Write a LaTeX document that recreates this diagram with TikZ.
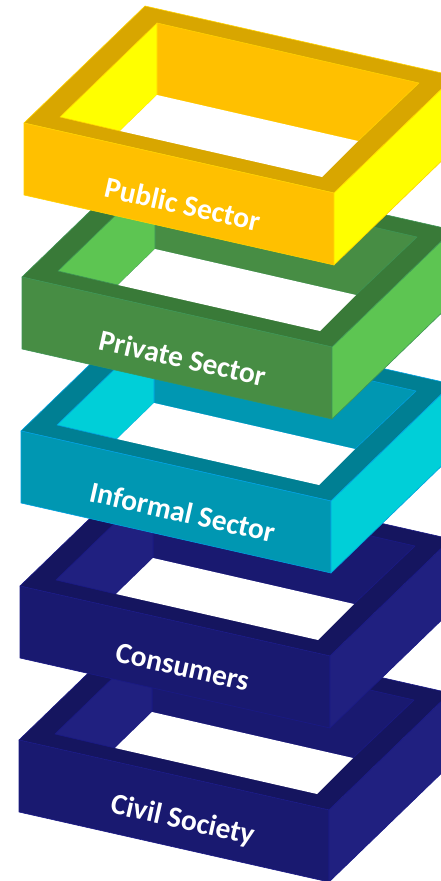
\documentclass[tikz,border=0pt]{standalone}
\usepackage{fontspec}
\setmainfont{Carlito}
\tikzset{
  lay/.style={line width=0.6pt,line join=round},
  lbl/.style={text=white,font=\fontsize{29.5}{29.5}\selectfont\bfseries,rotate=-12.7,inner sep=0pt}
}
\newcommand{\ringlayer}[8]{% dx,dy,front,top,light,stroke,name,text
  \begin{scope}[shift={(#1,#2)},lay,draw=#6]
    \filldraw[fill=#4] (145,6) -- (455,76) -- (334,193) -- (24,123) -- cycle;
    \filldraw[fill=#3] (157,23) -- (419,83) -- (358,141) -- (157,95) -- cycle;
    \filldraw[fill=#5] (157,23) -- (157,95) -- (120,131) -- (60,117) -- cycle;
    \fill[white] (157,95) -- (358,141) -- (322,177) -- (120,131) -- cycle;
    \filldraw[fill=#3] (24,123) -- (334,193) -- (334,265) -- (24,195) -- cycle;
    \filldraw[fill=#5] (334,193) -- (455,76) -- (455,148) -- (334,265) -- cycle;
  \end{scope}
  \node[lbl] (#7) at (182.5,#2+204) {#8};
}
\definecolor{amberF}{HTML}{FFC000}\definecolor{amberT}{HTML}{D8A600}\definecolor{amberL}{HTML}{FFFF00}\definecolor{amberS}{HTML}{FFD200}
\definecolor{greenF}{HTML}{478D44}\definecolor{greenT}{HTML}{397A38}\definecolor{greenL}{HTML}{5DC552}\definecolor{greenS}{HTML}{3E9455}
\definecolor{tealF}{HTML}{0097B2}\definecolor{tealT}{HTML}{007F93}\definecolor{tealL}{HTML}{00CFD8}\definecolor{tealS}{HTML}{00A0E0}
\definecolor{navyF}{HTML}{191970}\definecolor{navyT}{HTML}{15155F}\definecolor{navyL}{HTML}{202080}\definecolor{navyS}{HTML}{1A1A85}
\begin{document}
\begin{tikzpicture}[x=1pt,y=-1pt]
  \useasboundingbox (0,0) rectangle (441,881);
  \clip (0,0) rectangle (441,881);
  \ringlayer{-5}{617}{navyF}{navyT}{navyL}{navyS}{civil}{Civil Society}
  \ringlayer{-4}{463}{navyF}{navyT}{navyL}{navyS}{consumers}{Consumers}
  \ringlayer{-3}{308}{tealF}{tealT}{tealL}{tealS}{informal}{Informal Sector}
  \ringlayer{-2}{154}{greenF}{greenT}{greenL}{greenS}{private}{Private Sector}
  \ringlayer{0}{0}{amberF}{amberT}{amberL}{amberS}{public}{Public Sector}
\end{tikzpicture}
\end{document}
